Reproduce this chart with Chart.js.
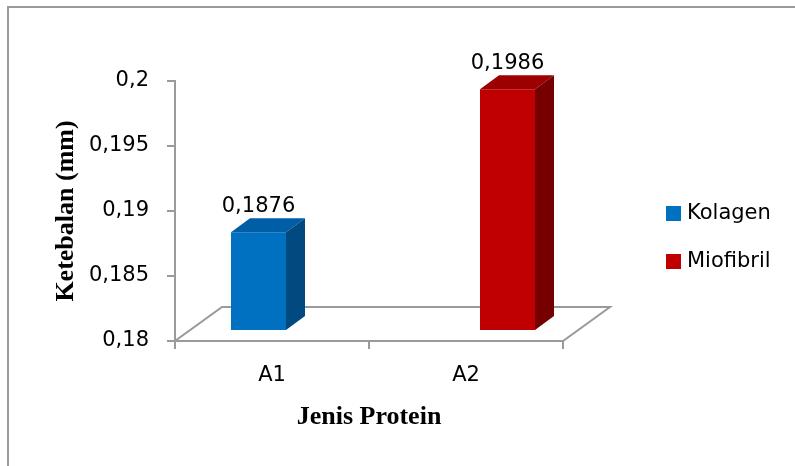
<!DOCTYPE html>
<html>
<head>
<meta charset="UTF-8">
<script src="https://cdn.jsdelivr.net/npm/chart.js"></script>
<style>
  html, body { margin: 0; padding: 0; background: #ffffff; }
  #chart { display: block; }
</style>
</head>
<body>
<canvas id="chart" width="795" height="466"></canvas>
<script>
const categories = ['A1', 'A2'];
const seriesNames = ['Kolagen', 'Miofibril'];
const kolagenValues = [0.1876, null];
const miofibrilValues = [null, 0.1986];
const yTickValues = [0.18, 0.185, 0.19, 0.195, 0.2];

const axisGray = '#9a9a9a';
const textFont = 'DejaVu Sans';
const serifFont = 'Liberation Serif';

// front / top / side shades for each series
const seriesColors = [
    { front: '#0070c0', top: '#005ea6', side: '#004a80' },
    { front: '#c00000', top: '#9c0000', side: '#760000' }
];

// fake 3D: floor depth, bars sit a bit back inside it
const floorDepth = { dx: 47, dy: -34 };
const barShift = { dx: 14, dy: -10 };
const barDepth = { dx: 19, dy: -14 };

const commaNum = v => String(+Number(v).toFixed(4)).replace('.', ',');

const excel3d = {
    id: 'excel3d',
    beforeDraw(chart) {
        const ctx = chart.ctx;
        ctx.save();
        ctx.fillStyle = '#ffffff';
        ctx.fillRect(0, 0, chart.width, chart.height);
        // outer chart frame (only top and left edges are in view)
        ctx.strokeStyle = axisGray;
        ctx.lineWidth = 2;
        ctx.beginPath();
        ctx.moveTo(chart.width, 7);
        ctx.lineTo(8, 7);
        ctx.lineTo(8, chart.height);
        ctx.stroke();
        ctx.restore();
    },
    beforeDatasetsDraw(chart) {
        const ctx = chart.ctx;
        const xs = chart.scales.x, ys = chart.scales.y;
        const x0 = xs.left, x1 = xs.right, y0 = ys.bottom;
        ctx.save();
        ctx.strokeStyle = axisGray;
        ctx.lineWidth = 2;
        ctx.beginPath();
        ctx.moveTo(x0, y0);
        ctx.lineTo(x1, y0);
        ctx.lineTo(x1 + floorDepth.dx, y0 + floorDepth.dy);
        ctx.lineTo(x0 + floorDepth.dx, y0 + floorDepth.dy);
        ctx.closePath();
        ctx.stroke();
        ctx.restore();
        // move the front faces back into the floor
        ctx.save();
        ctx.translate(barShift.dx, barShift.dy);
    },
    afterDatasetsDraw(chart) {
        const ctx = chart.ctx;
        chart.data.datasets.forEach((ds, di) => {
            const meta = chart.getDatasetMeta(di);
            const col = seriesColors[di];
            meta.data.forEach((bar, i) => {
                const v = ds.data[i];
                if (v === null || v === undefined) return;
                const { x, y, base, width } = bar.getProps(['x', 'y', 'base', 'width'], true);
                const l = x - width / 2, r = x + width / 2;
                const dx = barDepth.dx, dy = barDepth.dy;
                // top face
                ctx.fillStyle = col.top;
                ctx.beginPath();
                ctx.moveTo(l, y);
                ctx.lineTo(r, y);
                ctx.lineTo(r + dx, y + dy);
                ctx.lineTo(l + dx, y + dy);
                ctx.closePath();
                ctx.fill();
                // right side face
                ctx.fillStyle = col.side;
                ctx.beginPath();
                ctx.moveTo(r, y);
                ctx.lineTo(r + dx, y + dy);
                ctx.lineTo(r + dx, base + dy);
                ctx.lineTo(r, base);
                ctx.closePath();
                ctx.fill();
                // value label
                ctx.fillStyle = '#000000';
                ctx.font = '21px "' + textFont + '"';
                ctx.textAlign = 'center';
                ctx.textBaseline = 'alphabetic';
                ctx.fillText(commaNum(v), x, y + dy - 6);
            });
        });
        ctx.restore();
    },
    afterDraw(chart) {
        const ctx = chart.ctx;
        ctx.save();
        chart.data.datasets.forEach((ds, i) => {
            const cy = 213.5 + i * 48;
            ctx.fillStyle = ds.backgroundColor;
            ctx.fillRect(666, cy - 7.5, 15, 15);
            ctx.fillStyle = '#000000';
            ctx.font = '21px "' + textFont + '"';
            ctx.textAlign = 'left';
            ctx.textBaseline = 'middle';
            ctx.fillText(ds.label, 687, cy);
        });
        ctx.restore();
    }
};

new Chart(document.getElementById('chart'), {
    type: 'bar',
    data: {
        labels: categories,
        datasets: [
            {
                label: seriesNames[0],
                data: kolagenValues,
                backgroundColor: seriesColors[0].front,
                base: yTickValues[0],
                categoryPercentage: 0.567,
                barPercentage: 1,
                clip: false
            },
            {
                label: seriesNames[1],
                data: miofibrilValues,
                backgroundColor: seriesColors[1].front,
                base: yTickValues[0],
                categoryPercentage: 0.567,
                barPercentage: 1,
                clip: false
            }
        ]
    },
    options: {
        responsive: false,
        animation: false,
        devicePixelRatio: 1,
        layout: { padding: { left: 0, top: 81, right: 232, bottom: 0 } },
        plugins: {
            legend: { display: false },
            tooltip: { enabled: false }
        },
        scales: {
            x: {
                offset: true,
                grid: {
                    offset: true,
                    drawOnChartArea: false,
                    drawTicks: true,
                    tickLength: 8,
                    color: axisGray,
                    lineWidth: 2
                },
                border: { display: true, color: axisGray, width: 2 },
                ticks: { color: '#000000', font: { family: textFont, size: 21 }, padding: 14 },
                title: {
                    display: true,
                    text: 'Jenis Protein',
                    color: '#000000',
                    font: { family: serifFont, size: 26, weight: 'bold' },
                    padding: { top: 0, bottom: 33 }
                },
                afterFit: s => { s.height = 125; }
            },
            y: {
                min: 0.18,
                max: 0.2,
                afterBuildTicks: s => { s.ticks = yTickValues.map(v => ({ value: v })); },
                grid: {
                    drawOnChartArea: false,
                    drawTicks: true,
                    tickLength: 8,
                    color: axisGray,
                    lineWidth: 2
                },
                border: { display: true, color: axisGray, width: 2 },
                ticks: {
                    color: '#000000',
                    font: { family: textFont, size: 21 },
                    padding: 18,
                    callback: v => commaNum(v)
                },
                title: {
                    display: true,
                    text: 'Ketebalan (mm)',
                    color: '#000000',
                    font: { family: serifFont, size: 26, weight: 'bold' },
                    padding: { top: 51, bottom: 0 }
                },
                afterFit: s => { s.width = 175; }
            }
        }
    },
    plugins: [excel3d]
});
</script>
</body>
</html>
